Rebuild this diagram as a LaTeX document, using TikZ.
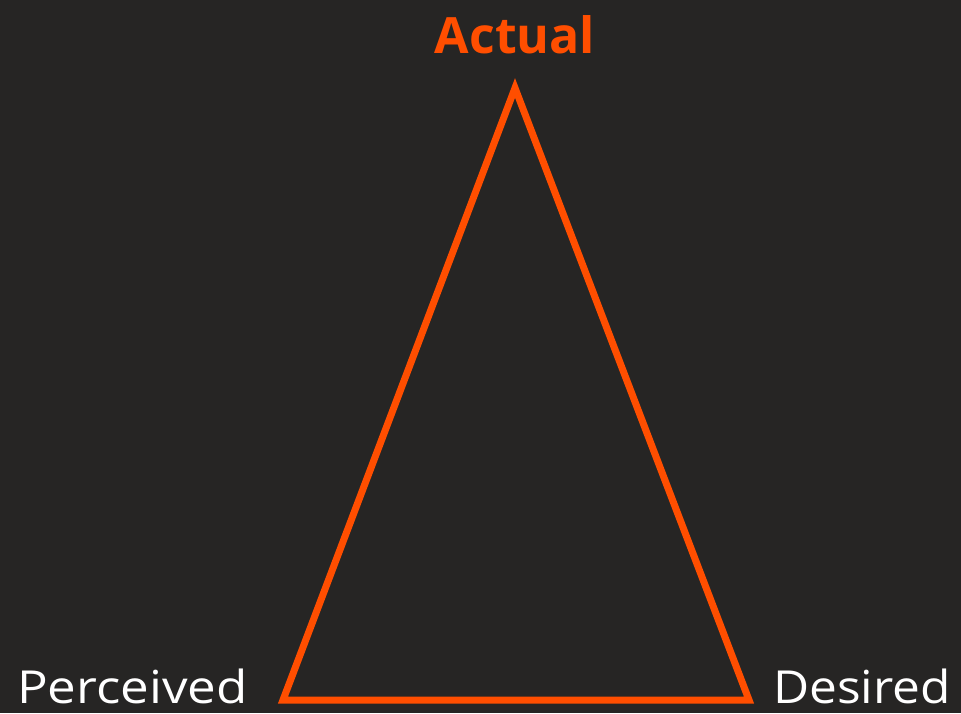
\documentclass[tikz,border=0pt]{standalone}
\usepackage{fontspec}
\setmainfont{Open Sans}
\definecolor{bg}{HTML}{262524}
\definecolor{org}{HTML}{FF4E00}
\begin{document}
\begin{tikzpicture}[x=1pt,y=-1pt,
  lbl/.style={inner sep=0pt,text=white,font=\fontsize{45.5}{50}\selectfont,xscale=1.09},
  ttl/.style={inner sep=0pt,text=org,font=\fontsize{50}{56}\selectfont\bfseries}]
\fill[bg] (0,0) rectangle (961,713);
\useasboundingbox (0,0) rectangle (961,713);
\coordinate (apex) at (515,88);
\coordinate (bl) at (283,700);
\coordinate (br) at (749,700);
\draw[org,line width=7pt,miter limit=10] (apex) -- (bl) -- (br) -- cycle;
\node[ttl,anchor=base] (actual) at (515,53) {Actual};
\node[lbl,anchor=base west,xscale=1.03] (perceived) at (17,703) {Perceived};
\node[lbl,anchor=base east] (desired) at (951,703) {Desired};
\end{tikzpicture}
\end{document}
